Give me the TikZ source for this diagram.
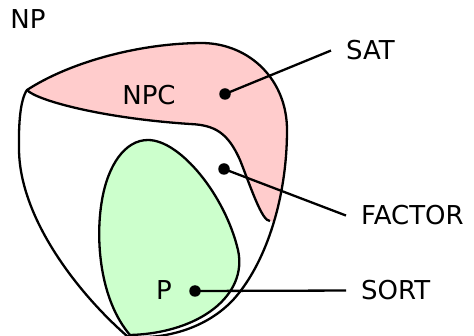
\documentclass[tikz,border=0pt]{standalone}
\usepackage{fontspec}
\setmainfont{DejaVu Sans}
\begin{document}
\begin{tikzpicture}[x=1pt,y=-1pt,
  edge/.style={line width=2.3pt, line join=round},
  dot/.style={circle, fill=black, inner sep=0pt, minimum size=11.5pt},
  lbl/.style={inner sep=0pt, font=\fontsize{26}{30}\selectfont},
  tag/.style={inner xsep=15pt, inner ysep=0pt, anchor=base west, font=\fontsize{26}{30}\selectfont},
  lead/.style={line width=2.3pt}]
\definecolor{npcpink}{HTML}{FFCCCC}
\definecolor{pgreen}{HTML}{CCFFCC}
\useasboundingbox (0,0) rectangle (474,336);

% outer boundary of NP
\def\outerNP{(27,90) .. controls (70,62) and (140,43) .. (203,43)
  .. controls (250,44) and (287,80) .. (287,130)
  .. controls (287,200) and (265,265) .. (233,300)
  .. controls (200,335) and (150,340) .. (127,336)
  .. controls (80,295) and (20,220) .. (19,150)
  .. controls (18.5,125) and (20,100) .. (27,90)}
% lower edge of the NP-complete band
\def\innerNPC{(27,90) .. controls (36,100) and (100,118) .. (190,124)
  .. controls (215,125) and (228,133) .. (240,160)
  .. controls (250,185) and (262,222) .. (270,221)}

% NPC band, kept inside NP
\begin{scope}
  \clip \outerNP -- cycle;
  \fill[npcpink] \innerNPC -- (330,240) -- (330,0) -- (0,0) -- (0,90) -- cycle;
\end{scope}
\draw[edge] \innerNPC;

% P region
\draw[edge, fill=pgreen] (148,140) .. controls (180,140) and (225,195) .. (238,250)
  .. controls (248,295) and (200,333) .. (130,335)
  .. controls (100,300) and (95,240) .. (102,200)
  .. controls (108,165) and (125,140) .. (148,140) -- cycle;

\draw[edge] \outerNP -- cycle;

% labels
\node[lbl, anchor=base] (np) at (28,29) {NP};
\node[lbl, anchor=base] (npc) at (149,105) {NPC};
\node[lbl, anchor=base] (p) at (164,300) {P};

\node[tag] (sat) at (331,60) {SAT};
\node[tag] (factor) at (346,225) {FACTOR};
\node[tag] (sort) at (346,300) {SORT};

% sample problems
\node[dot] (satdot) at (225,94) {};
\node[dot] (factordot) at (224,169) {};
\node[dot] (sortdot) at (195,291) {};

\draw[lead] (satdot.center) -- (sat.west);
\draw[lead] (factordot.center) -- (factor.west);
\draw[lead] (sortdot.center) -- (sort.west);
\end{tikzpicture}
\end{document}
